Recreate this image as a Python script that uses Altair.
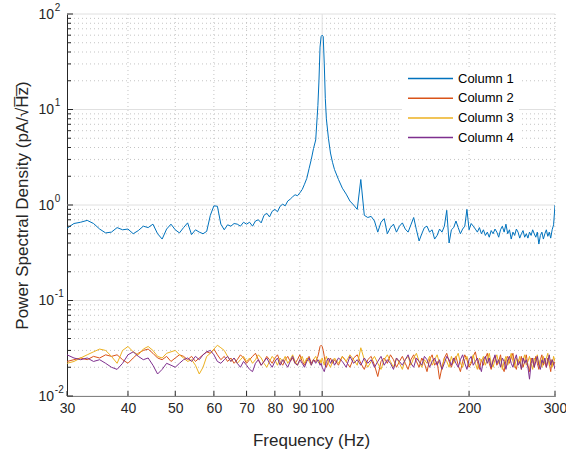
import altair as alt
import pandas as pd

FREQ = [
    30, 31, 32, 33, 34, 35, 36, 37, 38, 39,
    40, 41, 42, 43, 44, 45, 46, 47, 48, 49,
    50, 51, 52, 53, 54, 55, 56, 57, 58, 59,
    60, 61, 62, 63, 64, 65, 66, 67, 68, 69,
    70, 71, 72, 73, 74, 75, 76, 77, 78, 79,
    80, 81, 82, 83, 84, 85, 86, 87, 88, 89,
    90, 91, 92, 93, 94, 95, 96, 97, 98, 98.5,
    99, 99.5, 100, 100.5, 101, 101.5, 102, 103, 104, 105,
    106, 108, 110, 112, 114, 116, 118, 120, 122, 124,
    126, 128, 130, 132, 134, 136, 138, 140, 142, 144,
    146, 148, 150, 152, 154, 156, 158, 160, 162, 164,
    166, 168, 170, 172, 174, 176, 178, 180, 182, 184,
    186, 188, 190, 192, 194, 196, 198, 200, 202, 204,
    206, 208, 210, 212, 214, 216, 218, 220, 222, 224,
    226, 228, 230, 232, 234, 236, 238, 240, 242, 244,
    246, 248, 250, 252, 254, 256, 258, 260, 262, 264,
    266, 268, 270, 272, 274, 276, 278, 280, 282, 284,
    286, 288, 290, 292, 294, 296, 298, 300,
]

COL1 = [
    .57, .64, .66, .69, .64, .56, .51, .52, .58, .55,
    .56, .50, .54, .60, .58, .63, .50, .44, .56, .63,
    .55, .51, .58, .65, .49, .55, .52, .50, .53, .78,
    .98, .97, .63, .55, .62, .60, .64, .63, .60, .66,
    .63, .66, .60, .68, .70, .65, .78, .82, .75, .86,
    .90, .85, .97, 1.02, .98, 1.10, 1.15, 1.22, 1.28, 1.25,
    1.34, 1.45, 1.65, 1.9, 2.4, 3.0, 3.9, 4.8, 11, 20,
    45, 58, 60, 58, 30, 13, 8, 5, 3.5, 2.8,
    2.35, 1.85, 1.5, 1.3, 1.1, 1.0, .9, 1.85, .78, .74,
    .76, .68, .52, .66, .72, .50, .58, .63, .52, .60,
    .65, .56, .52, .62, .74, .55, .42, .50, .58, .60,
    .52, .55, .44, .48, .56, .52, .60, .88, .40, .55,
    .58, .68, .58, .50, .56, .60, .90, .55, .64, .60,
    .56, .52, .58, .50, .55, .48, .52, .46, .54, .50,
    .56, .52, .46, .55, .60, .52, .63, .50, .55, .44,
    .52, .48, .56, .52, .45, .50, .54, .46, .50, .45,
    .52, .48, .55, .50, .46, .52, .39, .48, .52, .44,
    .50, .55, .47, .52, .45, .55, .62, 1.0,
]

COL2 = [
    .023, .024, .025, .024, .026, .025, .027, .026, .027, .024,
    .022, .025, .028, .030, .031, .028, .025, .024, .026, .023,
    .025, .027, .026, .024, .026, .023, .025, .027, .029, .028,
    .031, .027, .024, .026, .023, .025, .022, .024, .027, .025,
    .022, .024, .026, .028, .024, .021, .023, .026, .024, .022,
    .025, .027, .023, .021, .024, .026, .023, .025, .022, .024,
    .027, .023, .021, .024, .026, .022, .024, .023, .026, .029,
    .033, .034, .033, .030, .026, .022, .020, .023, .025, .022,
    .024, .021, .026, .023, .020, .025, .027, .022, .019, .024,
    .026, .021, .016, .023, .025, .022, .027, .024, .020, .023,
    .026, .022, .019, .024, .027, .023, .020, .025, .022, .018,
    .024, .027, .021, .023, .015, .020, .025, .028, .023, .020,
    .024, .026, .021, .018, .023, .027, .024, .020, .022, .026,
    .029, .023, .019, .024, .021, .025, .028, .022, .019, .024,
    .026, .021, .023, .027, .020, .018, .024, .026, .022, .025,
    .028, .021, .019, .024, .022, .026, .020, .023, .027, .021,
    .018, .025, .023, .020, .026, .022, .019, .024, .027, .021,
    .023, .020, .025, .022, .018, .024, .021, .023,
]

COL3 = [
    .022, .023, .025, .027, .029, .031, .030, .026, .022, .030,
    .033, .029, .027, .031, .033, .030, .026, .025, .028, .029,
    .030, .027, .025, .023, .024, .021, .017, .020, .026, .028,
    .031, .034, .032, .030, .026, .023, .025, .022, .024, .026,
    .023, .025, .022, .024, .027, .025, .022, .020, .023, .026,
    .024, .021, .025, .023, .026, .022, .024, .027, .023, .021,
    .024, .026, .022, .025, .023, .021, .024, .026, .023, .022,
    .024, .022, .025, .023, .021, .024, .026, .022, .020, .023,
    .025, .022, .026, .023, .027, .024, .021, .032, .024, .020,
    .023, .026, .022, .019, .024, .027, .023, .020, .025, .022,
    .019, .024, .026, .021, .025, .028, .023, .020, .024, .022,
    .026, .021, .024, .027, .022, .019, .025, .023, .020, .026,
    .022, .025, .028, .022, .020, .024, .026, .021, .023, .027,
    .022, .019, .025, .023, .026, .021, .024, .028, .022, .020,
    .024, .027, .022, .025, .019, .023, .026, .021, .024, .028,
    .023, .020, .025, .022, .026, .019, .024, .027, .021, .023,
    .026, .022, .019, .025, .023, .027, .021, .024, .020, .026,
    .022, .025, .028, .021, .024, .020, .026, .023,
]

COL4 = [
    .027, .025, .024, .025, .023, .024, .022, .020, .019, .022,
    .027, .029, .026, .024, .025, .021, .017, .019, .022, .021,
    .020, .022, .024, .025, .023, .026, .024, .027, .029, .030,
    .027, .023, .022, .024, .026, .023, .025, .022, .020, .023,
    .021, .019, .018, .022, .024, .021, .023, .025, .022, .020,
    .023, .025, .021, .024, .022, .020, .023, .026, .022, .021,
    .024, .022, .020, .023, .025, .021, .024, .022, .024, .023,
    .021, .022, .020, .019, .018, .020, .023, .025, .022, .024,
    .021, .025, .023, .020, .026, .022, .024, .021, .025, .022,
    .024, .020, .023, .026, .021, .024, .022, .019, .025, .023,
    .021, .024, .027, .022, .020, .025, .023, .021, .026, .024,
    .020, .023, .025, .021, .024, .019, .022, .026, .024, .021,
    .025, .022, .020, .024, .027, .022, .019, .024, .026, .021,
    .023, .025, .021, .018, .024, .026, .022, .025, .020, .023,
    .027, .022, .024, .020, .025, .023, .019, .024, .026, .022,
    .020, .024, .027, .021, .023, .019, .025, .022, .024, .020,
    .015, .022, .025, .020, .023, .026, .021, .019, .024, .022,
    .025, .020, .023, .027, .021, .024, .022, .019,
]

SERIES = ["Column 1", "Column 2", "Column 3", "Column 4"]
COLORS = ["#0072BD", "#D95319", "#EDB120", "#7E2F8E"]

Y_MAJOR = [0.01, 0.1, 1, 10, 100]
Y_MINOR = [0.02, 0.03, 0.04, 0.05, 0.06, 0.07, 0.08, 0.09,
           0.2, 0.3, 0.4, 0.5, 0.6, 0.7, 0.8, 0.9,
           2, 3, 4, 5, 6, 7, 8, 9,
           20, 30, 40, 50, 60, 70, 80, 90]
X_TICKS = [30, 40, 50, 60, 70, 80, 90, 100, 200, 300]
X_MINOR_GRID = [40, 50, 60, 70, 80, 90, 200, 300]
X_MAJOR_GRID = [100]

for s in (COL1, COL2, COL3, COL4):
    assert len(s) == len(FREQ), (len(s), len(FREQ))

rows = []
for name, vals in zip(SERIES, [COL1, COL2, COL3, COL4]):
    for f, v in zip(FREQ, vals):
        rows.append({"f": f, "v": v, "series": name})
df = pd.DataFrame(rows)

W, H = 488, 382
FONT = "Liberation Sans"
TXT = "#262626"

xscale = alt.Scale(type="log", domain=[30, 300], nice=False)
yscale = alt.Scale(type="log", domain=[0.01, 100], nice=False)

exp_expr = ("datum.value >= 99 ? '2' : datum.value >= 9 ? '1' : "
            "datum.value >= 0.9 ? '0' : datum.value >= 0.09 ? '-1' : '-2'")

ymaj_df = pd.DataFrame({"g": Y_MAJOR})
ymin_df = pd.DataFrame({"g": Y_MINOR})
xmaj_df = pd.DataFrame({"g": X_MAJOR_GRID})
xmin_df = pd.DataFrame({"g": X_MINOR_GRID})
xtick_df = pd.DataFrame({"g": X_TICKS})

DOT = "#c4c4c4"
ygrid_minor = alt.Chart(ymin_df).mark_rule(color=DOT, strokeWidth=1, strokeDash=[1, 3]).encode(
    y=alt.Y("g:Q", scale=yscale, axis=None))
xgrid_minor = alt.Chart(xmin_df).mark_rule(color=DOT, strokeWidth=1, strokeDash=[1, 3]).encode(
    x=alt.X("g:Q", scale=xscale, axis=None))
ygrid_major = alt.Chart(ymaj_df).mark_rule(color="#e0e0e0", strokeWidth=1).encode(
    y=alt.Y("g:Q", scale=yscale, axis=None))
xgrid_major = alt.Chart(xmaj_df).mark_rule(color="#e0e0e0", strokeWidth=1).encode(
    x=alt.X("g:Q", scale=xscale, axis=None))

lines = alt.Chart(df).mark_line(strokeWidth=1, clip=True).encode(
    x=alt.X("f:Q", scale=xscale, axis=alt.Axis(
        values=X_TICKS, title="Frequency (Hz)", grid=False, ticks=False, orient="bottom",
        labelFontSize=14, labelPadding=5, labelFlush=False, labelOverlap=False,
        labelFont=FONT, labelColor=TXT, format="d",
        titleFont=FONT, titleFontSize=17, titleFontWeight="normal", titleColor=TXT,
        titleX=W / 2, titleY=49, titleBaseline="alphabetic", titleAlign="center")),
    y=alt.Y("v:Q", scale=yscale, axis=alt.Axis(
        values=Y_MAJOR, labelExpr="'10'", title="Power Spectral Density (pA/\u221aH\u0305z\u0305)",
        grid=False, ticks=False, orient="left", labelFontSize=14, labelPadding=13.5, labelOverlap=False,
        labelFont=FONT, labelColor=TXT, labelAlign="right",
        titleFont=FONT, titleFontSize=17, titleFontWeight="normal", titleColor=TXT,
        titleX=-40, titleY=H / 2, titleAngle=-90, titleBaseline="alphabetic", titleAlign="center")),
    color=alt.Color("series:N", scale=alt.Scale(domain=SERIES, range=COLORS), legend=alt.Legend(
        title=None, orient="none", legendX=335, legendY=53, fillColor="white", padding=5,
        symbolType="stroke", symbolSize=2025, symbolStrokeWidth=1.5, clipHeight=13,
        rowPadding=5.7, labelFontSize=13, labelFont=FONT, labelColor="black", labelOffset=4)),
)

ytick_major = alt.Chart(ymaj_df).mark_rule(color=TXT).encode(
    y=alt.Y("g:Q", scale=yscale, axis=alt.Axis(
        values=Y_MAJOR, labelExpr=exp_expr, title=None, orient="left", domain=False,
        grid=False, ticks=False, labelFontSize=10, labelPadding=12.7, labelAlign="left",
        labelOffset=-7, labelOverlap=False, labelFont=FONT, labelColor=TXT)),
    x=alt.value(0), x2=alt.value(6))
ytick_minor = alt.Chart(ymin_df).mark_rule(color=TXT).encode(
    y=alt.Y("g:Q", scale=yscale, axis=None), x=alt.value(0), x2=alt.value(4))
xtick = alt.Chart(xtick_df).mark_rule(color=TXT).encode(
    x=alt.X("g:Q", scale=xscale, axis=None), y=alt.value(H), y2=alt.value(H - 5))

chart = alt.layer(
    ygrid_minor, xgrid_minor, ygrid_major, xgrid_major, lines, ytick_major, ytick_minor, xtick
).resolve_axis(x="independent", y="independent").properties(
    width=W, height=H,
    autosize=alt.AutoSizeParams(type="none"),
    padding={"left": 67, "top": 14, "right": 11, "bottom": 55},
    background="white",
).configure_view(stroke=None).configure_axis(domainColor=TXT, domainWidth=1)

chart.save("out.html", embed_options={"renderer": "svg", "actions": False})
